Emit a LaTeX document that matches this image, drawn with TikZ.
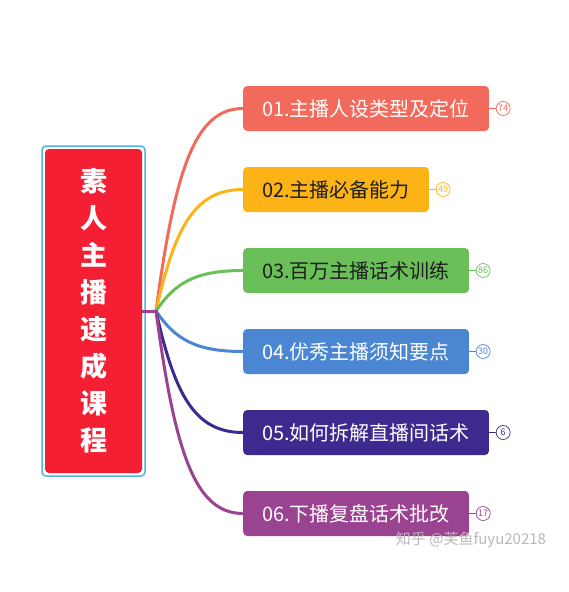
\documentclass[tikz,border=0pt]{standalone}
\usepackage{fontspec}
\newfontfamily\cjk{Noto Sans CJK SC}
\definecolor{cA}{HTML}{F26A5B}
\definecolor{cB}{HTML}{FBB316}
\definecolor{cC}{HTML}{6BBF59}
\definecolor{cD}{HTML}{4A86D2}
\definecolor{cE}{HTML}{3E2A8E}
\definecolor{cF}{HTML}{9A4391}
\definecolor{cRed}{HTML}{F41F33}
\definecolor{cCyan}{HTML}{4EB6E0}
\definecolor{cDark}{HTML}{1E1E1E}
\tikzset{
  branch/.style={rounded corners=4pt, minimum height=45pt, inner xsep=19pt, anchor=west, font=\cjk\fontsize{20}{20}\selectfont},
  badge/.style={circle, draw, fill=white, line width=0.7pt, minimum size=14pt, inner sep=0pt, font=\cjk\fontsize{9}{9}\selectfont},
  conn/.style={line width=3pt, line cap=round},
}
\begin{document}
\begin{tikzpicture}[x=1pt,y=-1pt]
\useasboundingbox (0,0) rectangle (569,592);
% central node
\node[draw=cCyan, line width=1.5pt, rounded corners=4pt, minimum width=103pt, minimum height=330pt, inner sep=0pt] (frame) at (93.5,311) {};
\node[fill=cRed, rounded corners=4pt, minimum width=97pt, minimum height=324pt, inner sep=0pt] (root) at (93.5,311) {};
\node[text=white, font=\cjk\bfseries\fontsize{27}{37}\selectfont, align=center] (title) at (93.5,311) {素\\人\\主\\播\\速\\成\\课\\程};
\coordinate (hub) at (156,311);
% branches
\node[branch, fill=cA, text=white] (b1) at (243,108.5) {01.主播人设类型及定位};
\node[branch, fill=cB, text=cDark] (b2) at (243,189.5) {02.主播必备能力};
\node[branch, fill=cC, text=cDark] (b3) at (243,270.5) {03.百万主播话术训练};
\node[branch, fill=cD, text=white] (b4) at (243,351.5) {04.优秀主播须知要点};
\node[branch, fill=cE, text=white] (b5) at (243,432.5) {05.如何拆解直播间话术};
\node[branch, fill=cF, text=white] (b6) at (243,513.5) {06.下播复盘话术批改};
% connectors
\draw[conn, cA] (hub) .. controls (175,169) and (195,108.5) .. (b1.west);
\draw[conn, cB] (hub) .. controls (175,226) and (195,189.5) .. (b2.west);
\draw[conn, cC] (hub) .. controls (175,283) and (195,270.5) .. (b3.west);
\draw[conn, cD] (hub) .. controls (175,339) and (195,351.5) .. (b4.west);
\draw[conn, cE] (hub) .. controls (175,396) and (195,432.5) .. (b5.west);
\draw[conn, cF] (hub) .. controls (175,453) and (195,513.5) .. (b6.west);
\draw[conn, cF, line cap=butt] (root.east) -- (hub);
% badges
\node[badge, draw=cA, text=cA] (n1) at ([xshift=14pt]b1.east) {74};
\node[badge, draw=cB, text=cB] (n2) at ([xshift=14pt]b2.east) {49};
\node[badge, draw=cC, text=cC] (n3) at ([xshift=14pt]b3.east) {86};
\node[badge, draw=cD, text=cD] (n4) at ([xshift=14pt]b4.east) {30};
\node[badge, draw=cE, text=cE] (n5) at ([xshift=14pt]b5.east) {6};
\node[badge, draw=cF, text=cF] (n6) at ([xshift=14pt]b6.east) {17};
\draw[cA, line width=1.5pt] (b1.east) -- (n1.west);
\draw[cB, line width=1.5pt] (b2.east) -- (n2.west);
\draw[cC, line width=1.5pt] (b3.east) -- (n3.west);
\draw[cD, line width=1.5pt] (b4.east) -- (n4.west);
\draw[cE, line width=1.5pt] (b5.east) -- (n5.west);
\draw[cF, line width=1.5pt] (b6.east) -- (n6.west);
% watermark
\node[text=black!28, font=\cjk\fontsize{15}{15}\selectfont] (wm) at (471,540) {知乎 @芙鱼fuyu20218};
\end{tikzpicture}
\end{document}
